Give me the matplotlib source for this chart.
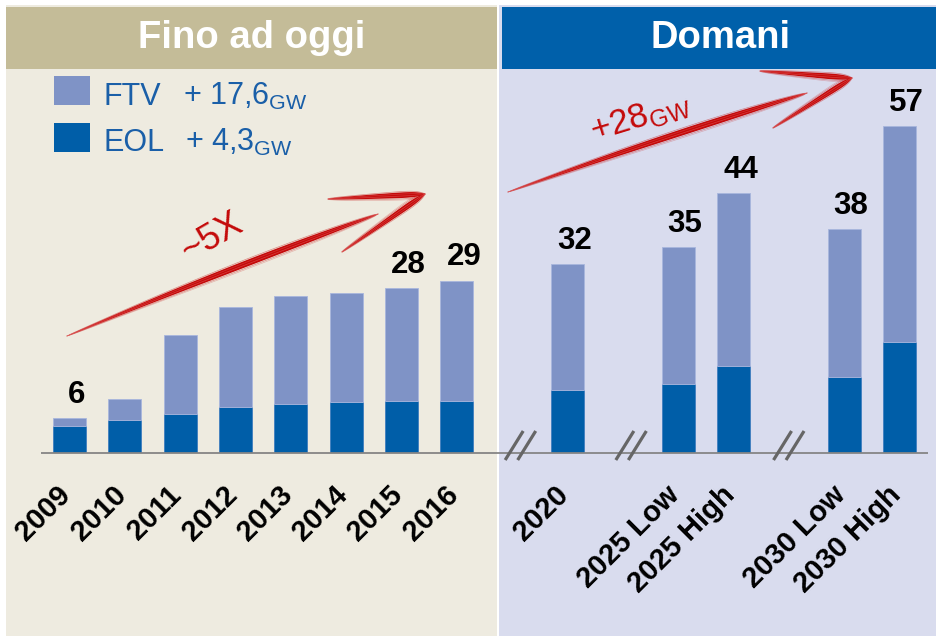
import numpy as np
import matplotlib
matplotlib.use("Agg")
import matplotlib.pyplot as plt
import matplotlib.transforms as mtransforms
from matplotlib.patches import Rectangle, Polygon

plt.rcParams['font.family'] = ['Liberation Sans', 'DejaVu Sans']
plt.rcParams['mathtext.default'] = 'regular'

W, H = 937, 636  # output size in pixels

# data (GW)
categories = ["2009", "2010", "2011", "2012", "2013", "2014", "2015", "2016",
              "2020", "2025 Low", "2025 High", "2030 Low", "2030 High"]
slots = [0, 1, 2, 3, 4, 5, 6, 7, 9, 11, 12, 14, 15]
eol = [4.6, 5.6, 6.6, 7.8, 8.3, 8.6, 8.8, 8.8, 10.7, 11.7, 14.7, 12.9, 18.8]
total = [5.9, 9.2, 20.0, 24.7, 26.6, 27.1, 28.0, 29.2, 32.0, 34.9, 44.1, 38.0, 55.4]
ftv = [t - e for t, e in zip(total, eol)]
value_labels = ["6", "", "", "", "", "", "28", "29", "32", "35", "44", "38", "57"]
break_slots = [8.15, 10.15, 13.0]

EOL_C = "#005EA8"
FTV_C = "#7F93C6"
RED = "#C40A0A"
TXT_BLUE = "#1A5FA8"

fig = plt.figure(figsize=(W / 100, H / 100), dpi=100)
fig.patch.set_facecolor("white")
# pixel coordinates, origin top-left
PX = mtransforms.Affine2D().scale(1 / W, -1 / H).translate(0, 1) + fig.transFigure


def px_rect(x, y, w, h, color, z=-2):
    fig.add_artist(Rectangle((x, y), w, h, transform=PX, fc=color, ec="none", zorder=z))


# panels
px_rect(6, 5, 491, 631, "#EEEBE0")
px_rect(6, 7, 491, 62, "#C4BC98", z=-1)
px_rect(499, 5, 438, 631, "#D9DCEE")
px_rect(502, 7, 435, 62, "#0060AA", z=-1)
fig.text(251.5, 48, "Fino ad oggi", transform=PX, ha="center", va="baseline",
         color="white", fontsize=27.5, fontweight="bold")
fig.text(720.5, 48, "Domani", transform=PX, ha="center", va="baseline",
         color="white", fontsize=27.5, fontweight="bold")

# legend
px_rect(54, 76, 36, 29, FTV_C, z=1)
px_rect(54, 123, 36, 29, EOL_C, z=1)
fig.text(104, 105, "FTV", transform=PX, va="baseline", color=TXT_BLUE, fontsize=22)
fig.text(183, 105, "+ 17,6$_{GW}$", transform=PX, va="baseline", color=TXT_BLUE, fontsize=22)
fig.text(104, 151, "EOL", transform=PX, va="baseline", color=TXT_BLUE, fontsize=22)
fig.text(185, 151, "+ 4,3$_{GW}$", transform=PX, va="baseline", color=TXT_BLUE, fontsize=22)

# main axes: bottom edge on the baseline
slot_px, x0_px, gw_px, base_px = 55.33, 69.5, 5.9, 453
ax = fig.add_axes([0, (H - base_px) / H, 1, base_px / H])
ax.set_facecolor("none")
ax.set_xlim(-x0_px / slot_px, (W - x0_px) / slot_px)
ax.set_ylim(0, base_px / gw_px)
for sp in ax.spines.values():
    sp.set_visible(False)
ax.set_yticks([])

ax.bar(slots, eol, width=0.6, color=EOL_C, edgecolor="#3F7DBF", linewidth=0.6, zorder=3)
ax.bar(slots, ftv, bottom=eol, width=0.6, color=FTV_C, edgecolor="#A8B6DD",
       linewidth=0.6, zorder=3)
for s, t, lab in zip(slots, total, value_labels):
    if lab:
        ax.annotate(lab, xy=(s, t), xytext=(5, 11), textcoords="offset points",
                    ha="center", va="baseline", fontsize=22.5, fontweight="bold")

ax.hlines(0, -0.515, 15.51, color="#858585", lw=1.3, zorder=4, clip_on=False)
for b in break_slots:
    for off in (-0.113, 0.113):
        ax.plot([b + off - 0.163, b + off + 0.163], [-1.19, 3.73], color="#666666",
                lw=2.3, solid_capstyle="butt", clip_on=False, zorder=5)

ax.set_xticks(slots)
ax.set_xticklabels(categories, rotation=45, ha="right", va="top",
                   fontsize=21, fontweight="bold")
ax.tick_params(axis="x", length=0, pad=20)
shift = mtransforms.ScaledTranslation(7 / 100, 0, fig.dpi_scale_trans)
for lbl in ax.get_xticklabels():
    lbl.set_transform(lbl.get_transform() + shift)


# hand-drawn red arrows
def brush(p0, p1, w, profile, bow=0.0, n=80):
    p0, p1 = np.array(p0, float), np.array(p1, float)
    t = np.linspace(0, 1, n)
    d = p1 - p0
    nrm = np.array([-d[1], d[0]]) / np.hypot(*d)
    pts = p0 + np.outer(t, d) + np.outer(bow * 4 * t * (1 - t), nrm)
    half = w * profile(t) / 2
    poly = np.vstack([pts + nrm * half[:, None], (pts - nrm * half[:, None])[::-1]])
    fig.add_artist(Polygon(poly, closed=True, fc=RED, ec="none", transform=PX, zorder=5))
    for k, a in [(-1.3, 0.45), (1.3, 0.45), (1.7, 0.25), (0.3, 0.5), (-0.4, 0.4)]:
        line = pts + nrm * (half * k)[:, None]
        col = "#E87070" if abs(k) < 0.5 else RED
        fig.add_artist(plt.Line2D(line[:, 0], line[:, 1], color=col,
                                  lw=0.5, alpha=a, transform=PX, zorder=5))


shaft = lambda t: np.sin(np.pi * t) ** 0.6 * (0.4 + 0.6 * t)
to_tip = lambda t: (t ** 0.6) * (1 - t ** 12) + 0.05
from_tip = lambda t: ((1 - t) ** 0.7) * (1 - (1 - t) ** 12) + 0.05

brush((67, 336), (378, 214), 8.5, shaft, bow=-2)
brush((328, 199), (425, 194), 6.5, to_tip)
brush((425, 194), (342, 252), 6.5, from_tip)

brush((508, 192), (807, 93), 8.5, shaft, bow=-2)
brush((760, 71), (852, 78), 6.5, to_tip)
brush((852, 78), (773, 128), 6.5, from_tip)

fig.text(212, 237, "~5X", transform=PX, ha="center", va="center", rotation=30,
         rotation_mode="anchor", color=RED, fontsize=26)
fig.text(640, 118, "+28$_{GW}$", transform=PX, ha="center", va="center", rotation=17,
         rotation_mode="anchor", color=RED, fontsize=25)

fig.savefig("out.png", dpi=100)
